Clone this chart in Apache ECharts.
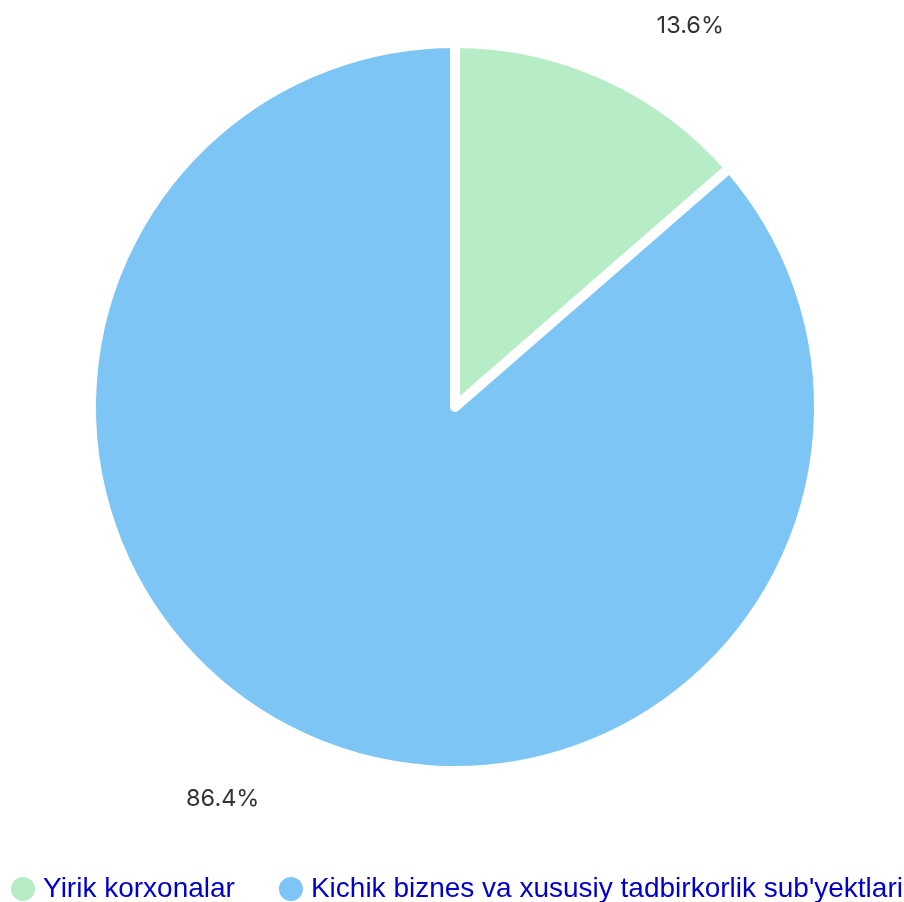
<!DOCTYPE html>
<html><head><meta charset="utf-8">
<script src="https://cdn.jsdelivr.net/npm/echarts@6/dist/echarts.min.js"></script>
<style>html,body{margin:0;padding:0;background:#fff}#c{width:904px;height:902px}</style>
</head><body><div id="c"></div>
<script>
const categories = ["Yirik korxonalar", "Kichik biznes va xususiy tadbirkorlik sub'yektlari"];
const values = [13.6, 86.4];
const colors = ["#b6edc6", "#7dc5f4"];

const lineLen = [[55, 23], [67, 12]];

const chart = echarts.init(document.getElementById('c'), null, {renderer: 'canvas'});
chart.setOption({
  animation: false,
  color: colors,
  legend: {
    top: 875, left: 9, padding: 0,
    icon: 'circle', itemWidth: 30, itemHeight: 26, itemGap: 42,
    textStyle: {fontFamily: 'Liberation Sans, Arial', fontSize: 28, color: '#0000cc'},
    data: categories
  },
  series: [{
    type: 'pie',
    center: [455, 407],
    radius: 364,
    startAngle: 90,
    avoidLabelOverlap: false,
    itemStyle: {borderColor: '#fff', borderWidth: 10, borderJoin: 'round'},
    label: {
      show: true, position: 'outside',
      formatter: p => p.value.toFixed(1) + '%',
      fontFamily: 'Inter', fontSize: 23.5, color: '#333'
    },
    labelLine: {show: false},
    data: categories.map((c, i) => ({
      name: c, value: values[i],
      labelLine: {show: false, length: lineLen[i][0], length2: lineLen[i][1]}
    }))
  }]
});
</script></body></html>
